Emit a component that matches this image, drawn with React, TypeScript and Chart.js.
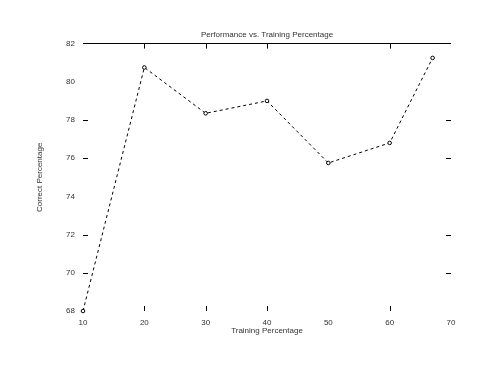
import React, { useEffect, useRef } from "react";
import { Chart, registerables } from "chart.js";

Chart.register(...registerables);

const trainingPct = [10, 20, 30, 40, 50, 60, 67];
const correctPct = [68.0, 80.75, 78.35, 79.0, 75.75, 76.8, 81.25];
const yTickMarks = [70, 72, 76, 78];
const xTickMarks = [20, 30, 40, 60];
const titleText = "Performance vs. Training Percentage";
const xTitle = "Training Percentage";
const yTitle = "Correct Percentage";

const FONT = "'Liberation Sans', 'DejaVu Sans', sans-serif";
const TEXT = "#333";

const innerTicks = {
  id: "innerTicks",
  afterDraw(chart: any) {
    const { ctx, chartArea } = chart;
    const xs = chart.scales.x;
    const ys = chart.scales.y;
    ctx.save();
    ctx.strokeStyle = "#000";
    ctx.lineWidth = 1;
    ctx.beginPath();
    for (const v of yTickMarks) {
      const py = Math.round(ys.getPixelForValue(v)) + 0.5;
      ctx.moveTo(chartArea.left, py);
      ctx.lineTo(chartArea.left + 5, py);
      ctx.moveTo(chartArea.right - 5, py);
      ctx.lineTo(chartArea.right, py);
    }
    for (const v of xTickMarks) {
      const px = Math.round(xs.getPixelForValue(v)) + 0.5;
      ctx.moveTo(px, chartArea.bottom);
      ctx.lineTo(px, chartArea.bottom - 5);
      ctx.moveTo(px, chartArea.top);
      ctx.lineTo(px, chartArea.top + 5);
    }
    ctx.stroke();
    ctx.restore();
  },
};

export default function App() {
  const ref = useRef<HTMLCanvasElement | null>(null);
  useEffect(() => {
    if (!ref.current) return;
    const chart = new Chart(ref.current, {
      type: "line",
      data: {
        datasets: [
          {
            data: trainingPct.map((x, i) => ({ x, y: correctPct[i] })),
            borderColor: "#000",
            borderWidth: 1,
            borderDash: [3, 3],
            pointStyle: "circle",
            pointRadius: 1.8,
            pointBorderWidth: 1,
            pointBorderColor: "#000",
            pointBackgroundColor: "#fff",
            tension: 0,
            fill: false,
            clip: false as any,
          },
        ],
      },
      options: {
        animation: false,
        responsive: false,
        maintainAspectRatio: false,
        layout: { padding: { left: 0, right: 27, top: 0, bottom: 0 } },
        plugins: {
          legend: { display: false },
          tooltip: { enabled: false },
          title: {
            display: true,
            text: titleText,
            fullSize: false,
            color: TEXT,
            font: { family: FONT, size: 8, weight: "normal" },
            padding: { top: 30, bottom: 4 },
          },
        },
        scales: {
          x: {
            type: "linear",
            min: 10,
            max: 70,
            border: { display: false },
            grid: { display: false, drawTicks: false },
            ticks: {
              stepSize: 10,
              padding: 7,
              color: TEXT,
              font: { family: FONT, size: 8 },
            },
            title: {
              display: true,
              text: xTitle,
              color: TEXT,
              font: { family: FONT, size: 8 },
              padding: { top: 0, bottom: 33 },
            },
            afterFit(scale: any) {
              scale.height = 58;
            },
          },
          y: {
            min: 68,
            max: 82,
            border: { display: false },
            grid: {
              drawTicks: false,
              drawOnChartArea: true,
              lineWidth: 1,
              color: (c: any) => (c.tick && c.tick.value === 82 ? "#000" : "rgba(0,0,0,0)"),
            },
            ticks: {
              stepSize: 2,
              padding: 8,
              color: TEXT,
              font: { family: FONT, size: 8 },
            },
            title: {
              display: true,
              text: yTitle,
              color: TEXT,
              font: { family: FONT, size: 8 },
              padding: { top: 35, bottom: 0 },
            },
            afterFit(scale: any) {
              scale.width = 83;
            },
          },
        },
      },
      plugins: [innerTicks],
    });
    return () => chart.destroy();
  }, []);
  return (
    <div style={{ position: "fixed", left: 0, top: 0, width: 478, height: 369, background: "#fff" }}>
      <canvas ref={ref} width={478} height={369} style={{ width: 478, height: 369, display: "block" }} />
    </div>
  );
}
